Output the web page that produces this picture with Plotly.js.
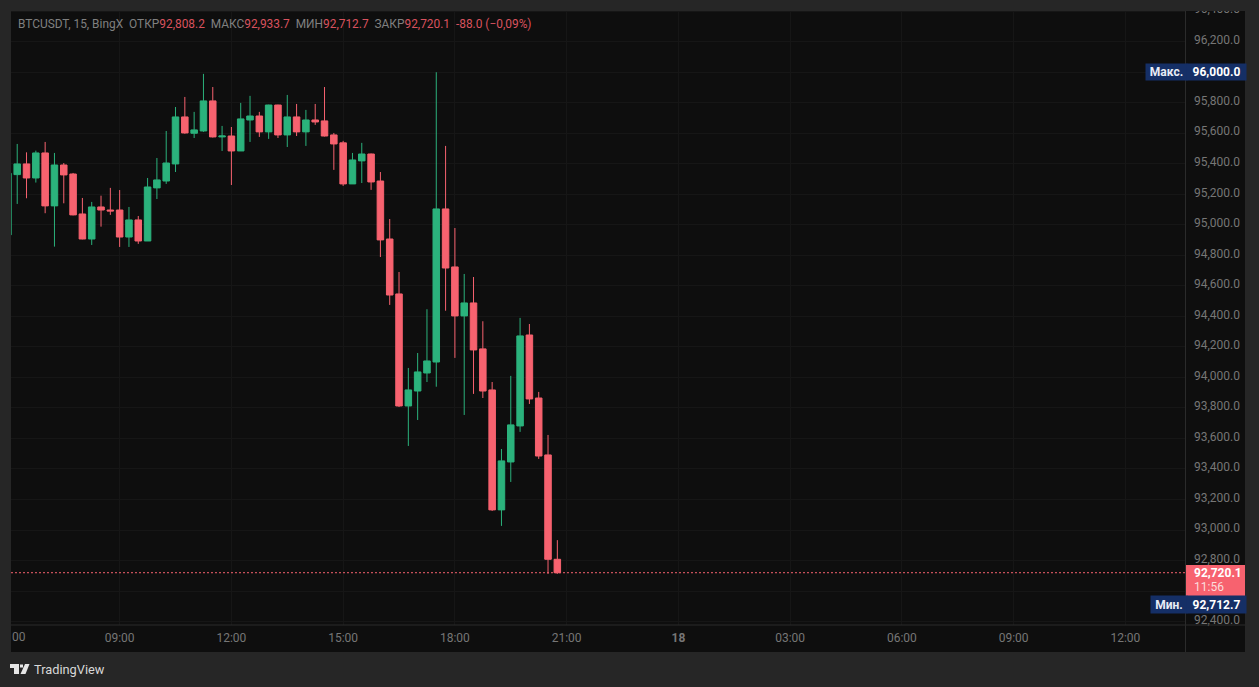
<!DOCTYPE html>
<html>
<head>
<meta charset="utf-8">
<script src="https://cdn.plot.ly/plotly-3.0.1.min.js"></script>
<style>
html, body { margin: 0; padding: 0; background: #262626; overflow: hidden; }
#chart { width: 1259px; height: 687px; }
/* price labels sit a little above their grid lines */
#chart .ytick text { translate: 0 -2px; }
</style>
</head>
<body>
<div id="chart"></div>
<script>
const times17 = ['06:00','06:15','06:30','06:45','07:00','07:15','07:30','07:45','08:00','08:15','08:30','08:45',
  '09:00','09:15','09:30','09:45','10:00','10:15','10:30','10:45','11:00','11:15','11:30','11:45',
  '12:00','12:15','12:30','12:45','13:00','13:15','13:30','13:45','14:00','14:15','14:30','14:45',
  '15:00','15:15','15:30','15:45','16:00','16:15','16:30','16:45','17:00','17:15','17:30','17:45',
  '18:00','18:15','18:30','18:45','19:00','19:15','19:30','19:45','20:00','20:15','20:30','20:45'];

const opens = [94934,95329,95399,95307,95471,95124,95392,95333,95071,94907,95117,95097,
  95097,94920,95032,94894,95242,95287,95399,95707,95600,95615,95812,95576,
  95582,95484,95687,95713,95609,95785,95589,95707,95609,95687,95681,95589,
  95537,95268,95419,95464,95287,94907,94547,93813,93911,94029,94101,95104,
  94724,94403,94488,94187,93918,93132,93446,93682,94278,93865,93492,92808.2];
const highs = [95347,95530,95475,95486,95543,95471,95405,95340,95176,95150,95191,95242,
  95228,95117,95058,95307,95438,95615,95772,95838,95740,95989,95903,95648,
  95641,95799,95845,95740,95787,95787,95851,95792,95753,95792,95903,95602,
  95550,95471,95537,95467,95346,95038,94691,94062,94160,94447,96000,95517,
  94979,94678,94658,94368,93970,93531,94010,94390,94350,93905,93623,92933.7];
const lows = [94922,95137,95174,95277,95076,94857,95141,95062,94905,94868,94988,95065,
  94855,94855,94875,94894,95169,95268,95346,95597,95569,95609,95572,95484,
  95261,95484,95543,95576,95563,95569,95510,95582,95517,95655,95579,95360,
  95255,95268,95274,95229,94789,94475,93806,93551,93721,93970,93939,94437,
  94128,93754,93892,93865,93125,93027,93315,93643,93826,93466,92712.7,92712.7];
const closes = [95338,95399,95307,95471,95124,95392,95327,95065,94907,95117,95097,95091,
  94920,95032,94894,95248,95294,95405,95707,95602,95622,95812,95576,95582,
  95484,95694,95713,95609,95785,95589,95707,95609,95687,95674,95582,95530,
  95268,95425,95464,95281,94901,94540,93813,93918,94036,94108,95104,94717,
  94403,94488,94180,93911,93132,93453,93689,94272,93859,93485,92808.2,92720.1];

const timeTicks = ['2024-11-17 09:00','2024-11-17 12:00','2024-11-17 15:00','2024-11-17 18:00','2024-11-17 21:00',
  '2024-11-18 00:00','2024-11-18 03:00','2024-11-18 06:00','2024-11-18 09:00','2024-11-18 12:00'];
const timeLabels = ['09:00','12:00','15:00','18:00','21:00','<b>18</b>','03:00','06:00','09:00','12:00'];

// 92,600 sits behind the last price tag, so it only keeps its grid line
const priceTicks = [92400,92800,93000,93200,93400,93600,93800,94000,94200,94400,94600,94800,95000,95200,95400,95600,95800,96000,96200,96400];
const hiddenPriceTicks = [92600];

const UP = '#2bb27c', DOWN = '#f7626f', GRID = '#161616', FRAME = '#262626', PANE = '#0e0e0e', LINE = '#2b2b2b', NAVY = '#152f66';
const MUTED = '#767676';
const FONT = 'Roboto, sans-serif';

// pixel helpers for the window chrome
const W = 1259, H = 687, L = 11, R = 1185, T = 10, B = 625;
const px = x => (x - L) / (R - L);
const py = y => (B - y) / (B - T);

function rect(x0, y0, x1, y1, color, layer) {
  return {type: 'rect', xref: 'paper', yref: 'paper', x0: px(x0), x1: px(x1), y0: py(y0), y1: py(y1),
    fillcolor: color, line: {width: 0}, layer: layer || 'below'};
}
function poly(points, color) {
  const path = points.map((p, i) => (i ? 'L' : 'M') + px(p[0]) + ',' + py(p[1])).join(' ') + ' Z';
  return {type: 'path', xref: 'paper', yref: 'paper', path: path, fillcolor: color, line: {width: 0}, layer: 'above'};
}
function label(text, x, y, opts) {
  return Object.assign({xref: 'paper', yref: 'paper', x: px(x), y: py(y), text: text, showarrow: false,
    xanchor: 'left', yanchor: 'middle', align: 'left', borderpad: 0,
    font: {family: FONT, size: 12, color: MUTED}}, opts || {});
}

const red = s => '<span style="color:#d9525e">' + s + '</span>';
const legendText = 'BTCUSDT, 15, BingX&nbsp;&nbsp;ОТКР' + red('92,808.2') + '&nbsp;&nbsp;МАКС' + red('92,933.7') +
  '&nbsp;&nbsp;МИН' + red('92,712.7') + '&nbsp;&nbsp;ЗАКР' + red('92,720.1') + '&nbsp;&nbsp;' + red('-88.0 (−0,09%)');

const trace = {
  type: 'candlestick',
  x: times17.map(t => '2024-11-17 ' + t),
  open: opens, high: highs, low: lows, close: closes,
  increasing: {line: {color: UP, width: 1}, fillcolor: UP},
  decreasing: {line: {color: DOWN, width: 1}, fillcolor: DOWN},
  whiskerwidth: 0,
  hoverinfo: 'skip'
};

const layout = {
  width: W, height: H,
  margin: {l: L, r: W - R, t: T, b: H - B, pad: 0},
  paper_bgcolor: FRAME,
  plot_bgcolor: PANE,
  showlegend: false,
  dragmode: false,
  boxgap: 0.3,
  boxgroupgap: 0,
  font: {family: FONT, size: 12, color: MUTED},
  xaxis: {
    type: 'date',
    range: ['2024-11-17 06:05', '2024-11-18 13:36'],
    rangeslider: {visible: false},
    tickmode: 'array', tickvals: timeTicks, ticktext: timeLabels,
    ticks: '', ticklabelstandoff: 4,
    showgrid: true, gridcolor: GRID, gridwidth: 1,
    zeroline: false, showline: false,
    tickfont: {family: FONT, size: 12, color: MUTED}
  },
  yaxis: {
    side: 'right',
    range: [92377.6, 96407.7],
    tickmode: 'array', tickvals: priceTicks,
    minor: {tickmode: 'array', tickvals: hiddenPriceTicks, showgrid: true, gridcolor: GRID, gridwidth: 1, ticks: ''},
    tickformat: ',.1f',
    ticks: '', ticklabelstandoff: 8,
    showgrid: true, gridcolor: GRID, gridwidth: 1,
    zeroline: false, showline: false,
    tickfont: {family: FONT, size: 12, color: MUTED}
  },
  shapes: [
    rect(11, 11, 1245, 652, PANE),
    rect(0, 0, W, 11, FRAME, 'above'),
    rect(1185, 11, 1186, 652, LINE, 'above'),
    rect(11, 624.5, 1245, 625.5, LINE, 'above'),
    rect(1186, 565, 1245, 596, DOWN, 'above'),
    {type: 'line', xref: 'paper', yref: 'y', x0: 0, x1: 1, y0: 92720.1, y1: 92720.1,
      line: {color: DOWN, width: 1, dash: '2px,2px'}, layer: 'above'},
    // TradingView logo
    poly([[10, 664], [19, 664], [19, 674], [14, 674], [14, 668], [10, 668]], '#e6e6e6'),
    poly([[25, 664], [29.5, 664], [25.5, 674], [20.5, 674]], '#e6e6e6'),
    poly([[20, 664.5], [23, 664.5], [23, 667.5], [20, 667.5]], '#e6e6e6')
  ],
  annotations: [
    label(legendText, 17, 24, {font: {family: FONT, size: 11.9, color: '#808080'}}),
    label('00', 11, 637),
    label('TradingView', 32.5, 669.5, {font: {family: FONT, size: 12.8, color: '#d8d8d8'}}),
    label('<b>Макс.</b>', 1145, 72, {width: 41, height: 16, bgcolor: NAVY, align: 'center', font: {family: FONT, size: 12, color: '#e8ecf5'}}),
    label('<b>96,000.0</b>', 1186, 72, {width: 59, height: 16, bgcolor: NAVY, align: 'center', font: {family: FONT, size: 12, color: '#ffffff'}}),
    label('<b>92,720.1</b>', 1193, 572.5, {font: {family: FONT, size: 12, color: '#ffffff'}}),
    label('11:56', 1193, 587, {font: {family: FONT, size: 12, color: '#fbdcdc'}}),
    label('<b>Мин.</b>', 1150, 604.5, {width: 36, height: 17, bgcolor: NAVY, align: 'center', font: {family: FONT, size: 12, color: '#e8ecf5'}}),
    label('<b>92,712.7</b>', 1186, 604.5, {width: 59, height: 17, bgcolor: NAVY, align: 'center', font: {family: FONT, size: 12, color: '#ffffff'}})
  ]
};

Plotly.newPlot('chart', [trace], layout, {displayModeBar: false, staticPlot: true});
</script>
</body>
</html>
